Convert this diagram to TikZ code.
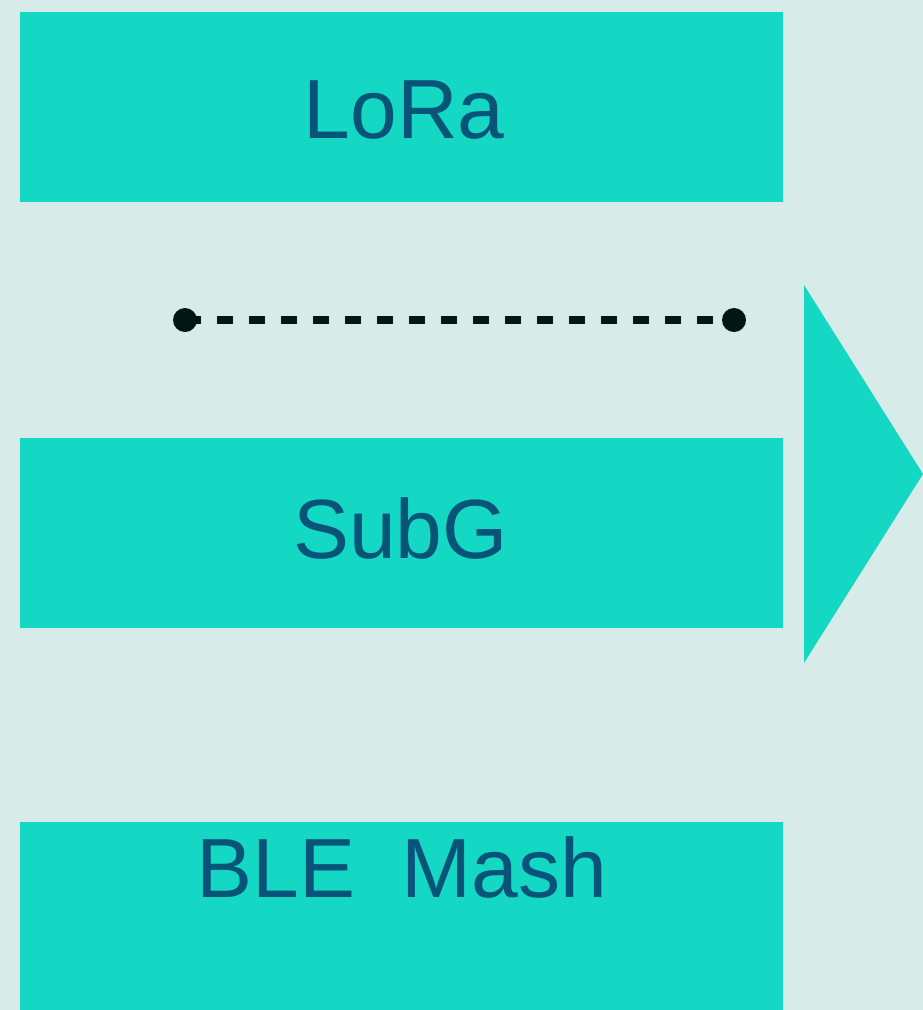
\documentclass[tikz,border=0pt]{standalone}
\usepackage{fontspec}
\setmainfont{Liberation Sans}
\definecolor{bgc}{HTML}{D7EBE8}
\definecolor{boxc}{HTML}{14D8C4}
\definecolor{txtc}{HTML}{085378}
\definecolor{dotc}{HTML}{031615}
\begin{document}
\begin{tikzpicture}[x=1pt,y=-1pt,
  bar/.style={fill=boxc, draw=none, rectangle, inner sep=0pt, minimum width=763pt, minimum height=189.5pt},
  lbl/.style={text=txtc, anchor=base, inner sep=0pt, font=\fontsize{84}{100}\selectfont},
  endpt/.style={circle, fill=dotc, draw=none, inner sep=0pt, minimum size=24pt},
  link/.style={draw=dotc, line width=8pt, dash pattern=on 16pt off 16pt}]
\fill[bgc] (0,0) rectangle (923,1010);
\useasboundingbox (0,0) rectangle (923,1010);
\node[bar] (lora) at (401.5,106.75) {};
\node[bar] (subg) at (401.5,533) {};
\node[bar] (ble) at (401.5,916.75) {};
\node[lbl] (loraT) at (404,138.5) {LoRa};
\node[lbl] (subgT) at (400.5,558) {SubG};
\node[lbl] (bleT) at (402,897) {BLE\ \ Mash};
\coordinate (d1) at (185,320);
\coordinate (d2) at (734,320);
\draw[link] (d1) -- (d2);
\node[endpt] (p1) at (d1) {};
\node[endpt] (p2) at (d2) {};
\fill[boxc] (804,285) -- (923,474) -- (804,663) -- cycle;
\end{tikzpicture}
\end{document}
